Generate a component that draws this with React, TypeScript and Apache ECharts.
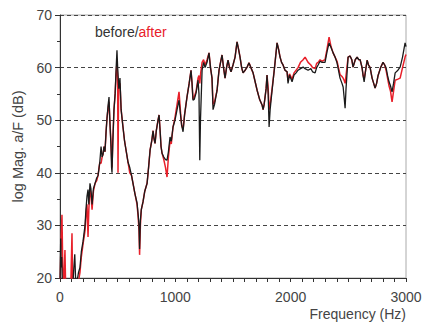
import React, { useEffect, useRef } from "react";
import * as echarts from "echarts";

const yTicks = [20, 30, 40, 50, 60, 70];
const xTicks = [0, 1000, 2000, 3000];

const before: [number, number][] = [
  [0, 18], [6, 27.5], [10, 22], [15, 24], [20, 19], [40, 15], [80, 15], [110, 18], [120, 22], [128, 24.5], [135, 20], [145, 19],
  [160, 21], [173, 22], [185, 25], [200, 27], [217, 30], [225, 33], [234, 35.5], [243, 36.8], [250, 34], [260, 38], [268, 37],
  [278, 34], [290, 37], [304, 38], [318, 39], [330, 39.5], [345, 42], [356, 45], [365, 43], [373, 43.5], [382, 45], [390, 44],
  [400, 48], [408, 50.5], [418, 53], [425, 54.4], [432, 50], [442, 45], [447, 41], [451, 40], [458, 46], [468, 52], [478, 55],
  [487, 60], [494, 63.3], [500, 60], [510, 56], [520, 58], [530, 52], [546, 48.7], [560, 46], [575, 44], [590, 42], [605, 41],
  [620, 39.5], [633, 38], [650, 36], [668, 34.3], [678, 32], [685, 30], [690, 25.5], [697, 31], [705, 33], [720, 34.5],
  [735, 36.5], [755, 38], [768, 41], [781, 44.3], [795, 46], [807, 48], [815, 46.5], [824, 45.6], [835, 48], [850, 50],
  [859, 51], [868, 48], [876, 45], [885, 43.7], [900, 43], [915, 42.5], [928, 42.4], [940, 44], [954, 46.8], [965, 46],
  [980, 48.7], [997, 50], [1015, 52], [1032, 53.8], [1045, 51], [1055, 49], [1067, 47.8], [1080, 51], [1101, 54.4],
  [1120, 57], [1136, 59.5], [1145, 57], [1153, 53.8], [1165, 54], [1180, 55.2], [1197, 57.6], [1205, 55], [1212, 42.4],
  [1218, 50], [1232, 59.5], [1245, 61], [1258, 60], [1275, 61], [1292, 62.8], [1305, 60], [1318, 58], [1327, 52], [1340, 53],
  [1362, 55.7], [1372, 58], [1379, 59.5], [1392, 61], [1405, 62.4], [1418, 60], [1431, 58], [1444, 60], [1457, 61.4],
  [1470, 60], [1483, 59.2], [1500, 60.5], [1518, 62], [1535, 64.9], [1548, 63.5], [1561, 62], [1575, 60], [1587, 59],
  [1605, 59.5], [1622, 60.1], [1639, 60.9], [1655, 60], [1674, 59], [1690, 57.5], [1709, 55.7], [1730, 54], [1752, 52.9],
  [1761, 52], [1770, 53], [1778, 54.4], [1787, 56], [1795, 58.6], [1805, 55], [1813, 48.7], [1822, 52], [1839, 55.7],
  [1860, 60], [1882, 64.7], [1895, 63.5], [1908, 62], [1921, 61], [1934, 60.5], [1951, 59.5], [1969, 59.2], [1977, 57],
  [1990, 58.6], [2012, 57.3], [2029, 58.6], [2047, 59], [2064, 59.5], [2085, 59.8], [2108, 60.1], [2125, 59.8], [2151, 59.5],
  [2175, 59.8], [2190, 59.2], [2212, 59], [2225, 60], [2238, 60.5], [2255, 61.2], [2272, 61], [2298, 61], [2315, 63],
  [2333, 64.7], [2350, 63.8], [2368, 62.8], [2385, 62], [2402, 60.9], [2428, 58], [2445, 57], [2455, 56.3], [2465, 54],
  [2472, 52.3], [2480, 56], [2498, 62], [2515, 62.2], [2530, 61.5], [2541, 60.1], [2560, 61.5], [2576, 62], [2590, 61.5],
  [2602, 61.5], [2619, 60], [2628, 58.5], [2637, 57.3], [2650, 59.5], [2663, 61.4], [2675, 60.5], [2689, 60], [2706, 58],
  [2720, 57], [2732, 56.1], [2745, 57], [2758, 58.5], [2780, 60], [2801, 61], [2815, 60.5], [2827, 60], [2840, 58.5],
  [2853, 57.3], [2866, 56.5], [2879, 55.4], [2892, 57], [2906, 59], [2930, 59.5], [2949, 60.1], [2970, 62], [2992, 64.7],
  [3000, 64],
];

const after: [number, number][] = [
  [0, 18], [8, 26], [17, 32], [24, 22], [32, 18], [43, 25.3], [50, 17], [90, 15], [104, 28.5], [110, 17], [140, 15], [150, 19],
  [165, 20], [173, 21], [185, 24], [200, 26.5], [217, 29], [225, 32], [234, 34], [243, 27.8], [250, 33], [260, 37], [268, 36],
  [278, 33], [290, 36.5], [304, 38], [318, 38.5], [330, 39.5], [345, 42], [356, 41.8], [365, 43], [373, 43.5], [382, 45], [390, 44],
  [400, 48], [408, 50.5], [418, 52.5], [425, 53.5], [432, 50], [442, 46], [447, 43], [451, 41], [458, 46], [468, 52], [478, 55],
  [487, 59], [494, 61], [500, 58], [503, 40], [508, 56], [520, 57], [530, 52], [546, 48.7], [560, 46], [575, 44], [590, 42],
  [605, 40], [620, 39.5], [633, 38], [650, 36], [668, 34], [678, 31.5], [685, 29], [690, 24.4], [697, 30], [705, 33], [720, 34.5],
  [735, 36.5], [755, 38], [768, 41], [781, 44.3], [795, 46], [807, 48], [815, 46.5], [824, 45.6], [835, 48], [850, 50],
  [859, 51], [868, 48], [876, 45], [885, 43.7], [900, 42.5], [915, 41], [928, 39.2], [940, 43], [954, 46], [965, 45.5],
  [980, 48.7], [997, 50.5], [1015, 53], [1032, 55.4], [1045, 51.5], [1055, 49], [1067, 48.3], [1080, 51], [1101, 54.4],
  [1120, 57], [1136, 59.5], [1145, 57], [1153, 54], [1165, 54.5], [1180, 55.5], [1197, 58], [1205, 58.5], [1212, 57],
  [1220, 59], [1232, 61], [1245, 61.5], [1258, 60.5], [1275, 61.5], [1292, 62.8], [1305, 60], [1318, 58], [1327, 53], [1340, 53.5],
  [1362, 55.7], [1372, 58], [1379, 59.5], [1392, 61], [1405, 62.4], [1418, 60], [1431, 58], [1444, 60], [1457, 61.4],
  [1470, 60], [1483, 59.2], [1500, 60.5], [1518, 62], [1535, 64.9], [1548, 63.5], [1561, 62], [1575, 60], [1587, 59],
  [1605, 59.5], [1622, 60.1], [1639, 60.9], [1655, 60], [1674, 59], [1690, 57.5], [1709, 55.7], [1730, 54], [1752, 52.9],
  [1761, 52], [1770, 53], [1778, 54.4], [1787, 56], [1795, 58.6], [1805, 56], [1813, 52], [1822, 53], [1839, 56],
  [1860, 60], [1882, 64.7], [1895, 63.5], [1908, 62], [1921, 61], [1934, 60.5], [1951, 59.5], [1969, 59.2], [1977, 57.5],
  [1990, 58.8], [2012, 57.8], [2029, 59], [2047, 59.5], [2064, 60], [2085, 61], [2108, 61.5], [2125, 62], [2151, 61],
  [2175, 60.5], [2190, 60], [2212, 59.8], [2225, 60.8], [2238, 61], [2255, 61.5], [2272, 61.2], [2298, 61.5], [2315, 63.5],
  [2333, 65.8], [2350, 64], [2368, 62.8], [2385, 62], [2402, 61.2], [2428, 58.7], [2445, 58.3], [2455, 58], [2465, 57.5],
  [2472, 57], [2480, 58.5], [2498, 62], [2515, 62.2], [2530, 61.5], [2541, 60.1], [2560, 61.5], [2576, 62], [2590, 61.5],
  [2602, 61.5], [2619, 60], [2628, 58.5], [2637, 57.8], [2650, 59.5], [2663, 61.4], [2675, 60.5], [2689, 60], [2706, 58],
  [2720, 57], [2732, 56.1], [2745, 57], [2758, 58.5], [2780, 60], [2801, 61], [2815, 60.5], [2827, 59.5], [2840, 58],
  [2853, 56.5], [2866, 55.5], [2879, 53.5], [2892, 55.5], [2906, 57.6], [2930, 57.8], [2949, 58], [2970, 60], [2992, 62],
  [3000, 62.5],
];

const FONT = "Liberation Sans, Arial, sans-serif";

export default function App() {
  const ref = useRef<HTMLDivElement>(null);
  useEffect(() => {
    if (!ref.current) return;
    document.body.style.margin = "0";
    const chart = echarts.init(ref.current, undefined, { renderer: "svg" });
    chart.setOption({
      animation: false,
      backgroundColor: "#ffffff",
      grid: {
        left: 60,
        right: 19,
        top: 15,
        bottom: 47,
        show: true,
        borderColor: "#aaaaaa",
        borderWidth: 1,
      },
      xAxis: {
        type: "value",
        min: xTicks[0],
        max: xTicks[xTicks.length - 1],
        interval: 1000,
        axisLine: { show: true, onZero: false, lineStyle: { color: "#333", width: 1 } },
        axisTick: { show: true, length: 4, lineStyle: { color: "#333" } },
        minorTick: { show: true, splitNumber: 10, length: 4, lineStyle: { color: "#333" } },
        splitLine: { show: false },
        axisLabel: {
          color: "#444",
          fontSize: 14,
          fontFamily: FONT,
          margin: 12,
          formatter: (v: number) => String(v),
        },
        name: "Frequency (Hz)",
        nameLocation: "end",
        nameGap: 0,
        nameTextStyle: {
          color: "#444",
          fontSize: 14,
          fontFamily: FONT,
          align: "right",
          verticalAlign: "top",
          padding: [29, 0, 0, 0],
        },
      },
      yAxis: {
        type: "value",
        min: yTicks[0],
        max: yTicks[yTicks.length - 1],
        interval: 10,
        axisLine: { show: true, onZero: false, lineStyle: { color: "#333", width: 1 } },
        axisTick: { show: true, length: 5, lineStyle: { color: "#333" } },
        minorTick: { show: true, splitNumber: 2, length: 3, lineStyle: { color: "#333" } },
        splitLine: {
          show: true,
          lineStyle: { color: "#444", type: [4, 3], width: 1.2 },
        },
        axisLabel: {
          color: "#444",
          fontSize: 14,
          fontFamily: FONT,
          margin: 8,
          showMinLabel: true,
          showMaxLabel: true,
        },
        name: "log Mag. a/F (dB)",
        nameLocation: "middle",
        nameGap: 34,
        nameTextStyle: { color: "#444", fontSize: 14.5, fontFamily: FONT },
      },
      graphic: [
        {
          type: "text",
          left: 95,
          top: 25,
          style: {
            text: "{b|before/}{a|after}",
            rich: {
              b: { fill: "#333", fontSize: 14, fontFamily: FONT },
              a: { fill: "#e8202a", fontSize: 14, fontFamily: FONT },
            },
          },
        },
      ],
      series: [
        {
          name: "after",
          type: "line",
          data: after,
          showSymbol: false,
          symbol: "none",
          lineStyle: { color: "#e8202a", width: 1.5 },
          z: 2,
        },
        {
          name: "before",
          type: "line",
          data: before,
          showSymbol: false,
          symbol: "none",
          lineStyle: { color: "#1a1a1a", width: 1.3 },
          z: 3,
        },
      ],
    });
    return () => chart.dispose();
  }, []);
  return <div ref={ref} style={{ width: 425, height: 325 }} />;
}
